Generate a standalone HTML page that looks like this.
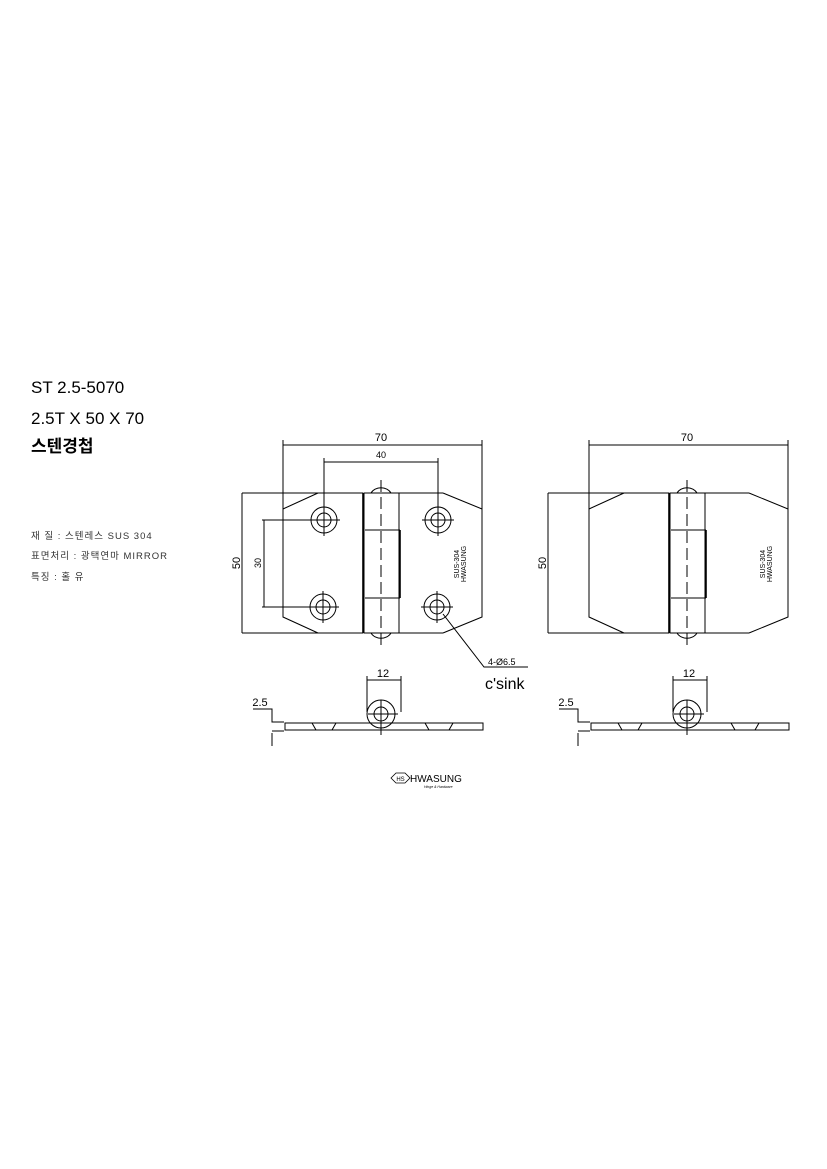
<!DOCTYPE html>
<html><head><meta charset="utf-8"><style>
html,body{margin:0;padding:0;background:#fff;}
svg{display:block;}
</style></head><body>
<svg width="827" height="1169" viewBox="0 0 827 1169" xmlns="http://www.w3.org/2000/svg" font-family="Liberation Sans, Noto Sans CJK KR, sans-serif">
<rect width="827" height="1169" fill="#fff"/>
<g fill="#000">
<text x="31" y="393" font-size="17">ST 2.5-5070</text>
<text x="31" y="424" font-size="17">2.5T X 50 X 70</text>
<text x="31" y="452" font-size="17" font-weight="bold">스텐경첩</text>
</g>
<g fill="#333" font-size="9.5" letter-spacing="1">
<text x="31" y="539">재 질 : 스텐레스 SUS 304</text>
<text x="31" y="559">표면처리 : 광택연마 MIRROR</text>
<text x="31" y="580">특징 : 홀 유</text>
</g>

<defs>
<g id="plate" fill="none" stroke="#000" stroke-width="1">
<polyline points="318,493 283,509 283,617 318,633"/>
<polyline points="443,493 482,509 482,617 443,633"/>
<line x1="242" y1="493" x2="363" y2="493"/>
<line x1="242" y1="633" x2="363" y2="633"/>
<line x1="399" y1="493" x2="443" y2="493"/>
<line x1="399" y1="633" x2="443" y2="633"/>
<line x1="363" y1="493" x2="363" y2="633" stroke-width="1.6"/>
<rect x="364" y="493" width="35" height="140"/>
<line x1="365" y1="530" x2="400" y2="530"/>
<line x1="365" y1="598" x2="400" y2="598"/>
<line x1="400" y1="530" x2="400" y2="598" stroke-width="1.6"/>
<path d="M371,493 A11,9 0 0 1 391,493"/>
<path d="M371,633 A11,9 0 0 0 391,633"/>
<line x1="381" y1="480" x2="381" y2="648" stroke-dasharray="12,5"/>
<line x1="283" y1="440" x2="283" y2="509"/>
<line x1="482" y1="440" x2="482" y2="509"/>
<line x1="283" y1="445" x2="482" y2="445"/>
<line x1="242" y1="493" x2="242" y2="633"/>
<rect x="285" y="723" width="198" height="7"/>
<circle cx="381" cy="714" r="14"/>
<circle cx="381" cy="714" r="7"/>
<line x1="368" y1="714" x2="398" y2="714"/>
<line x1="381" y1="700" x2="381" y2="735"/>
<path d="M312,723 L316,730 M336,723 L332,730 M425,723 L429,730 M453,723 L449,730"/>
<line x1="367" y1="676" x2="367" y2="712"/>
<line x1="401" y1="676" x2="401" y2="712"/>
<line x1="367" y1="680" x2="401" y2="680"/>
<polyline points="253,709 272,709 272,722 284,722"/>
<line x1="272" y1="733" x2="272" y2="746"/>
<line x1="272" y1="731" x2="284" y2="731"/>
</g>
</defs>
<use href="#plate"/>
<use href="#plate" transform="translate(306,0)"/>

<g fill="#000" font-size="11">
<text x="381" y="441" text-anchor="middle">70</text>
<text x="687" y="441" text-anchor="middle">70</text>
<text x="383" y="677" text-anchor="middle">12</text>
<text x="689" y="677" text-anchor="middle">12</text>
<text x="260" y="706" text-anchor="middle">2.5</text>
<text x="566" y="706" text-anchor="middle">2.5</text>
<text transform="translate(240,563) rotate(-90)" text-anchor="middle">50</text>
<text transform="translate(546,563) rotate(-90)" text-anchor="middle">50</text>
<text x="381" y="458" text-anchor="middle" font-size="9">40</text>
<text transform="translate(261,563) rotate(-90)" text-anchor="middle" font-size="9">30</text>
<text transform="translate(459,564) rotate(-90)" text-anchor="middle" font-size="7">SUS-304</text>
<text transform="translate(466,564) rotate(-90)" text-anchor="middle" font-size="7">HWASUNG</text>
<text transform="translate(765,564) rotate(-90)" text-anchor="middle" font-size="7">SUS-304</text>
<text transform="translate(772,564) rotate(-90)" text-anchor="middle" font-size="7">HWASUNG</text>
<text x="488" y="665" font-size="9">4-Ø6.5</text>
<text x="485" y="689" font-size="16">c'sink</text>
</g>

<g fill="none" stroke="#000" stroke-width="1">
<line x1="324" y1="462" x2="438" y2="462"/>
<line x1="324" y1="458" x2="324" y2="508"/>
<line x1="438" y1="458" x2="438" y2="508"/>
<line x1="264" y1="520" x2="264" y2="607"/>
<line x1="262" y1="520" x2="308" y2="520"/>
<line x1="262" y1="607" x2="308" y2="607"/>
<g id="hole">
<circle cx="324" cy="520" r="13"/><circle cx="324" cy="520" r="7"/>
<line x1="308" y1="520" x2="340" y2="520"/><line x1="324" y1="504" x2="324" y2="536"/>
</g>
<use href="#hole" transform="translate(114,0)"/>
<use href="#hole" transform="translate(-1,87)"/>
<use href="#hole" transform="translate(113,87)"/>
<polyline points="443,614 484,667 528,667"/>
</g>

<g>
<path d="M391,778 L396,773 L405,773 L410,778 L405,783 L396,783 Z" fill="none" stroke="#000" stroke-width="0.8"/>
<text x="400.5" y="781" font-size="6" text-anchor="middle">HS</text>
<text x="410" y="782" font-size="10">HWASUNG</text>
<text x="424" y="788" font-size="3.5" font-style="italic">Hinge &amp; Hardware</text>
</g>
</svg>
</body></html>
